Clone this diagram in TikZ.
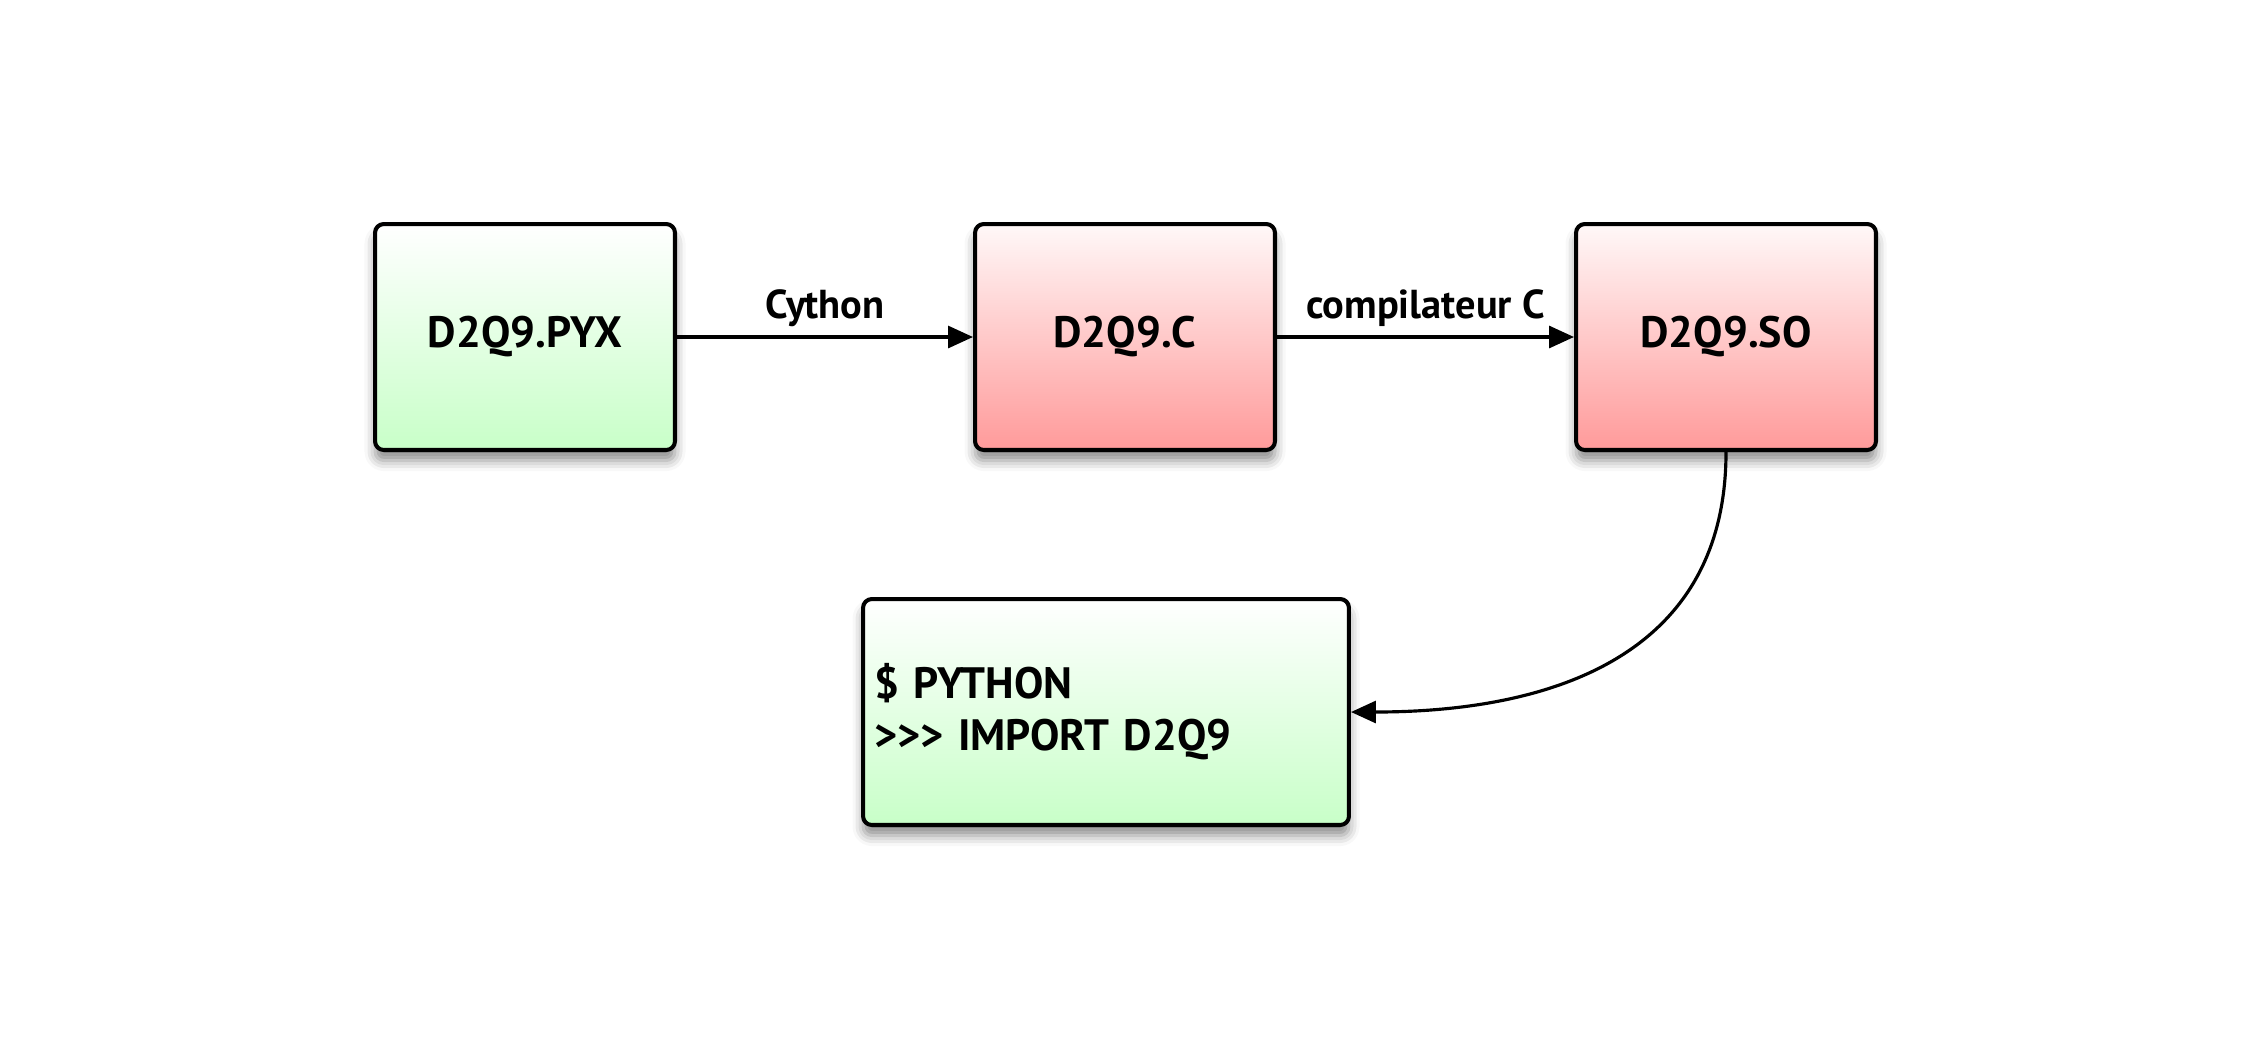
\documentclass[tikz,border=0pt]{standalone}
\usepackage{fontspec}
\setmainfont{PT Sans}
\usetikzlibrary{arrows.meta,shadows.blur,positioning}
\definecolor{gtop}{HTML}{FFFFFF}
\definecolor{gbot}{HTML}{C8FFC8}
\definecolor{rtop}{HTML}{FFF8F8}
\definecolor{rbot}{HTML}{FF9A9A}
\tikzset{
  box/.style={draw=black, line width=2.3pt, rounded corners=5pt,
    minimum width=6cm, minimum height=4.52cm, inner sep=0pt,
    font=\bfseries\fontsize{25}{30}\selectfont,
    blur shadow={shadow xshift=0pt, shadow yshift=-6pt, shadow blur radius=6pt, shadow opacity=45}},
  greenbox/.style={box, top color=gtop, bottom color=gbot},
  redbox/.style={box, top color=rtop, bottom color=rbot},
  conn/.style={line width=1.8pt, -{Triangle[length=0.5cm,width=0.44cm]}},
  lbl/.style={font=\bfseries\fontsize{23}{30}\selectfont, anchor=base, yshift=0.38cm}
}
\begin{document}
\begin{tikzpicture}[x=0.02cm,y=-0.02cm]
\useasboundingbox (0,0) rectangle (2250,1046);
\node[greenbox] (pyx) at (525,337) {D2Q9.PYX};
\node[redbox] (c) at (1125,337) {D2Q9.C};
\node[redbox] (so) at (1726,337) {D2Q9.SO};
\node[greenbox, minimum width=9.72cm, text width=9.28cm, align=left,
  font=\bfseries\fontsize{25}{29.5}\selectfont] (py) at (1106,712) {\$ PYTHON\\>{}>{}> IMPORT D2Q9};
\draw[conn] (pyx.east) -- node[lbl]{Cython} (c.west);
\draw[conn] (c.east) -- node[lbl]{compilateur C} (so.west);
\draw[conn] (so.south) .. controls ([yshift=-4.2cm]so.south) and ([xshift=3.8cm]py.east) .. (py.east);
\end{tikzpicture}
\end{document}
